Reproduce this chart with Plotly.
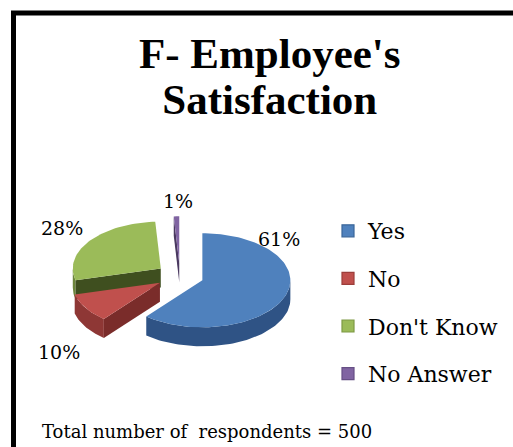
import numpy as np
import plotly.graph_objects as go

# ---- data ----
categories = ["Yes", "No", "Don't Know", "No Answer"]
percents = [61, 10, 28, 1]
title_lines = ["F- Employee's", "Satisfaction"]
footer_text = "Total number of \u00a0respondents = 500"

# ---- styles ----
top_colors = ["#4F81BD", "#C0504D", "#9BBB59", "#8064A2"]
wall_colors = ["#2F5385", "#8E3735", "#6C853B", "#5A4675"]
cut_colors = ["#24406A", "#7A2C2A", "#3F4F1F", "#4A3960"]
edge_colors = ["#3A6699", "#9C3E3B", "#7E9A45", "#664F85"]
CX, CY = 180.0, 276.0   # pixel-like coords of pie centre
RX, RY = 88.0, 47.0
DEPTH = 19.0
PULL = 0.27
label_pos = [(279, 239), (59, 352), (62, 228), (178, 201)]
SERIF = "DejaVu Serif"

W, H = 513, 447
fig = go.Figure()


def pt(cx, cy, a_deg, k=1.0):
    a = np.radians(a_deg)
    return cx + k * RX * np.sin(a), cy - k * RY * np.cos(a)


def arc(cx, cy, a0, a1):
    n = max(3, int(abs(a1 - a0) / 2) + 2)
    angs = np.linspace(a0, a1, n)
    xs, ys = pt(cx, cy, angs)
    return list(xs), list(ys)


def poly(xs, ys, color):
    fig.add_trace(go.Scatter(x=xs + [xs[0]], y=ys + [ys[0]], mode="lines", fill="toself",
                             fillcolor=color, line=dict(width=0, color=color),
                             hoverinfo="skip", showlegend=False))


total = float(sum(percents))
starts = np.concatenate([[0.0], np.cumsum(percents)[:-1]]) / total * 360.0
ends = np.cumsum(percents) / total * 360.0

slices = []
for i in range(len(categories)):
    a0, a1 = starts[i], ends[i]
    mid = (a0 + a1) / 2
    ax_, ay_ = pt(CX, CY, mid, PULL)
    slices.append((ay_, i, a0, a1, ax_))

# paint back slices first
for ay_, i, a0, a1, ax_ in sorted(slices, key=lambda s: s[0]):
    # front outer wall
    f0, f1 = max(a0, 90.0), min(a1, 270.0)
    if f1 > f0:
        xs, ys = arc(ax_, ay_, f0, f1)
        poly(xs + xs[::-1], ys + [y + DEPTH for y in ys[::-1]], wall_colors[i])
    # radial cut faces that face the viewer
    for a, normal in ((a0, a0 - 90.0), (a1, a1 + 90.0)):
        if np.cos(np.radians(normal)) < -1e-6:
            rx_, ry_ = pt(ax_, ay_, a)
            poly([ax_, rx_, rx_, ax_], [ay_, ry_, ry_ + DEPTH, ay_ + DEPTH], cut_colors[i])
    # top face
    xs, ys = arc(ax_, ay_, a0, a1)
    poly([ax_] + xs, [ay_] + ys, top_colors[i])

# legend entries
for i, c in enumerate(categories):
    fig.add_trace(go.Scatter(x=[None], y=[None], mode="markers", name=c, legendgroup=c,
                             marker=dict(symbol="square", size=12, color=top_colors[i],
                                         line=dict(width=1.2, color=edge_colors[i]))))

# percentage labels
for i, p in enumerate(percents):
    fig.add_annotation(x=label_pos[i][0], y=label_pos[i][1], text=f"{p}%", showarrow=False,
                       xref="x", yref="y", font=dict(family=SERIF, size=19, color="black"))

# title (one text, tight line spacing like the reference)
title_html = "<b>" + "<br>".join(f"<span style='font-size:43px'>{t}</span>" for t in title_lines) + "</b>"
fig.add_annotation(x=270, y=76, text=title_html, showarrow=False, xref="x", yref="y",
                   font=dict(family="Liberation Serif", size=35, color="black"))
# footer
fig.add_annotation(x=40, y=431, text=footer_text, showarrow=False, xref="x", yref="y", xanchor="left",
                   font=dict(family=SERIF, size=18, color="black"))

# frame
fig.add_shape(type="path", path=f"M 13.5,{H + 5} L 13.5,13 L {W + 5},13", xref="x", yref="y",
              line=dict(color="black", width=5))

fig.update_xaxes(range=[0, W], visible=False, fixedrange=True)
fig.update_yaxes(range=[H, 0], visible=False, fixedrange=True)
fig.update_layout(
    width=W, height=H, margin=dict(l=0, r=0, t=0, b=0),
    paper_bgcolor="white", plot_bgcolor="white",
    showlegend=True,
    legend=dict(x=328 / W, y=1 - 210 / H, xanchor="left", yanchor="top",
                font=dict(family=SERIF, size=22, color="black"),
                tracegroupgap=16, itemwidth=30, bgcolor="rgba(0,0,0,0)"),
)
fig.write_html("out.html")
